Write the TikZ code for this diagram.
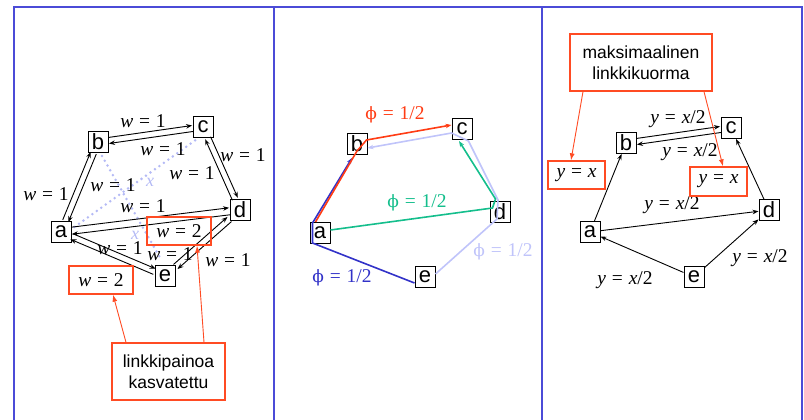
\documentclass[tikz,border=0pt]{standalone}
\usepackage{fontspec}
\setmainfont{Liberation Sans}
\newfontfamily\tms{Liberation Serif}
\newfontfamily\djs{DejaVu Serif}
\usetikzlibrary{arrows.meta}
\definecolor{framec}{RGB}{75,75,215}
\definecolor{callred}{RGB}{255,75,35}
\definecolor{lav}{RGB}{192,196,250}
\definecolor{dotc}{RGB}{180,186,245}
\definecolor{dblue}{RGB}{50,50,200}
\definecolor{grn}{RGB}{20,190,140}
\definecolor{pred}{RGB}{255,60,20}
\newcommand\eqs{\hspace{0.3em}=\hspace{0.3em}}
\newcommand\phis{{\djs\fontsize{17}{17}\selectfont ϕ}}
\tikzset{
 nd/.style={draw,line width=1pt,minimum width=20pt,minimum height=21pt,inner sep=0pt,font=\fontsize{22}{22}\selectfont},
 arr/.style={-{Stealth[length=6pt,width=4.5pt]},line width=0.9pt},
 lbl/.style={font=\tms\fontsize{19.5}{19.5}\selectfont,inner sep=0pt},
 rbox/.style={draw=callred,line width=1.3pt,inner sep=0pt,font=\tms\fontsize{19.5}{19.5}\selectfont},
 callbox/.style={draw=callred,line width=1.3pt,align=center,inner sep=0pt,font=\fontsize{17.5}{21}\selectfont},
 carr/.style={-{Latex[length=7pt,width=5pt]},callred,line width=0.9pt},
 dotl/.style={dotc,line width=2.8pt,line cap=round,dash pattern=on 0pt off 5.5pt},
 framel/.style={framec,line width=1.5pt}
}
\begin{document}
\begin{tikzpicture}[x=1pt,y=-1pt]
\useasboundingbox (0,0) rectangle (804,420);
% frame
\coordinate (f1) at (14,420); \coordinate (f2) at (14,7);
\coordinate (f3) at (802,7); \coordinate (f4) at (802,420);
\coordinate (g1) at (274,7); \coordinate (g2) at (274,420);
\coordinate (h1) at (542,7); \coordinate (h2) at (542,420);
\draw[framel] (f1) -- (f2) -- (f3) -- (f4);
\draw[framel] (g1) -- (g2);
\draw[framel] (h1) -- (h2);

% ================= panel 1
\node[nd] (a1) at (61,232) {a};
\node[nd] (b1) at (98,142) {b};
\node[nd] (c1) at (203,127) {c};
\node[nd] (d1) at (240,210) {d};
\node[nd] (e1) at (165,276) {e};
% dotted demand lines
\draw[dotl] ([shift={(3,-5)}]a1.east) -- ([shift={(-6,1)}]c1.south);
\draw[dotl] ([shift={(4,3)}]b1.south) -- ([shift={(-3,-4)}]e1.north);
\node[lbl,text=dotc,font=\tms\itshape\fontsize{18}{18}\selectfont] (x1) at (150,182) {x};
\node[lbl,text=dotc,font=\tms\itshape\fontsize{18}{18}\selectfont] (x2) at (135,235) {x};
% edges
\draw[arr,transform canvas={shift={(-2.8,-1.1)}}] (a1) -- (b1);
\draw[arr,transform canvas={shift={(2.8,1.1)}}] (b1) -- (a1);
\draw[arr,transform canvas={shift={(-0.4,-3)}}] (b1) -- (c1);
\draw[arr,transform canvas={shift={(0.4,3)}}] (c1) -- (b1);
\draw[arr,transform canvas={shift={(-2.7,1.2)}}] (d1) -- (c1);
\draw[arr,transform canvas={shift={(2.7,-1.2)}}] (c1) -- (d1);
\draw[arr,transform canvas={shift={(-0.4,-3.5)}}] (a1) -- (d1);
\draw[arr,transform canvas={shift={(0.4,3.5)}}] (d1) -- (a1);
\draw[arr,transform canvas={shift={(1.2,-2.8)}}] (a1) -- (e1);
\draw[arr,transform canvas={shift={(-1.2,2.8)}}] (e1) -- (a1);
\draw[arr,transform canvas={shift={(-2,-2.3)}}] (e1) -- (d1);
\draw[arr,transform canvas={shift={(2,2.3)}}] (d1) -- (e1);
% labels
\node[lbl] (l1) at (143,121) {{\itshape w}\eqs 1};
\node[lbl] (l2) at (163,149) {{\itshape w}\eqs 1};
\node[lbl] (l3) at (243,155) {{\itshape w}\eqs 1};
\node[lbl] (l4) at (192,173) {{\itshape w}\eqs 1};
\node[lbl] (l5) at (46,194) {{\itshape w}\eqs 1};
\node[lbl] (l6) at (113,185) {{\itshape w}\eqs 1};
\node[lbl] (l7) at (143,206) {{\itshape w}\eqs 1};
\node[lbl] (l8) at (120,248) {{\itshape w}\eqs 1};
\node[lbl] (l9) at (170,254) {{\itshape w}\eqs 1};
\node[lbl] (l10) at (228,260) {{\itshape w}\eqs 1};
\node[rbox,minimum width=64pt,minimum height=28pt] (rb1) at (179,231) {{\itshape w}\eqs 2};
\node[rbox,minimum width=64pt,minimum height=28pt] (rb2) at (101,280) {{\itshape w}\eqs 2};
\node[callbox,minimum width=113pt,minimum height=57pt] (cl1) at (168.5,371.5) {linkkipainoa\\kasvatettu};
\draw[carr] ([xshift=-42.5pt]cl1.north) -- ([xshift=12pt]rb2.south);
\draw[carr] ([xshift=35.5pt]cl1.north) -- ([xshift=18pt]rb1.south);

% ================= panel 2
\node[nd] (a2) at (320,233) {a};
\node[nd] (b2) at (357,144) {b};
\node[nd] (c2) at (462,129) {c};
\node[nd] (d2) at (500,212) {d};
\node[nd] (e2) at (425,277) {e};
% light path e-d-c-b
\draw[lav,line width=1.6pt,-{Stealth[length=6pt,width=4.5pt]}]
  ([shift={(0,-3)}]e2.east) -- ([shift={(-3,7)}]d2.center) -- ([shift={(-2,-12)}]d2.center)
  -- ([shift={(-4,1)}]c2.south east) -- ([shift={(0,4)}]c2.west) -- ([shift={(0,4)}]b2.east);
% green a-d-c
\draw[grn,line width=1.6pt,-{Stealth[length=6pt,width=4.5pt]}]
  ([shift={(0,-3)}]a2.east) -- ([shift={(3,-4)}]d2.west) -- ([shift={(6,-2)}]d2.north west) -- ([shift={(-3,1)}]c2.south);
% blue e-a-b
\draw[dblue,line width=1.6pt,-{Stealth[length=6pt,width=4.5pt]}]
  ([shift={(0,6)}]e2.west) -- ([shift={(3,-1)}]a2.south west) -- ([shift={(3,1)}]a2.north west) -- ([shift={(-5,3)}]b2.south);
% red a-b-c
\draw[pred,line width=1.6pt,-{Stealth[length=6pt,width=4.5pt]}]
  ([shift={(6,0)}]a2.north west) -- ([shift={(0,-4)}]b2.south) -- ([shift={(-1,-4)}]b2.east) -- ([shift={(0,-4)}]c2.west);
\node[lbl,text=pred] (p1) at (395,115) {\phis\eqs 1/2};
\node[lbl,text=grn] (p2) at (417,203) {\phis\eqs 1/2};
\node[lbl,text=dblue] (p3) at (342,278) {\phis\eqs 1/2};
\node[lbl,text=lav] (p4) at (503,252) {\phis\eqs 1/2};

% ================= panel 3
\node[nd] (a3) at (590,232) {a};
\node[nd] (b3) at (626,143) {b};
\node[nd] (c3) at (731,128) {c};
\node[nd] (d3) at (769,210) {d};
\node[nd] (e3) at (694,277) {e};
\draw[arr] (a3) -- (b3);
\draw[arr,transform canvas={shift={(-0.4,-3)}}] (b3) -- (c3);
\draw[arr,transform canvas={shift={(0.4,3)}}] (c3) -- (b3);
\draw[arr] (a3) -- (d3);
\draw[arr] (e3) -- (a3);
\draw[arr] (e3) -- (d3);
\draw[arr] (d3) -- (c3);
\node[lbl] (m1) at (678,119) {{\itshape y}\eqs{\itshape x}/2};
\node[lbl] (m2) at (690,152) {{\itshape y}\eqs{\itshape x}/2};
\node[lbl] (m3) at (672,205) {{\itshape y}\eqs{\itshape x}/2};
\node[lbl] (m4) at (760,258) {{\itshape y}\eqs{\itshape x}/2};
\node[lbl] (m5) at (625,280) {{\itshape y}\eqs{\itshape x}/2};
\node[callbox,minimum width=142pt,minimum height=57pt] (cl3) at (641,62.5) {maksimaalinen\\linkkikuorma};
\node[rbox,minimum width=57pt,minimum height=28pt] (yb1) at (576.5,175) {{\itshape y}\eqs{\itshape x}};
\node[rbox,minimum width=57pt,minimum height=29pt] (yb2) at (718.5,181.5) {{\itshape y}\eqs{\itshape x}};
\draw[carr] ([xshift=-58pt]cl3.south) -- ([xshift=-5.5pt]yb1.north);
\draw[carr] ([xshift=63pt]cl3.south) -- ([xshift=4.5pt]yb2.north);
\end{tikzpicture}
\end{document}
